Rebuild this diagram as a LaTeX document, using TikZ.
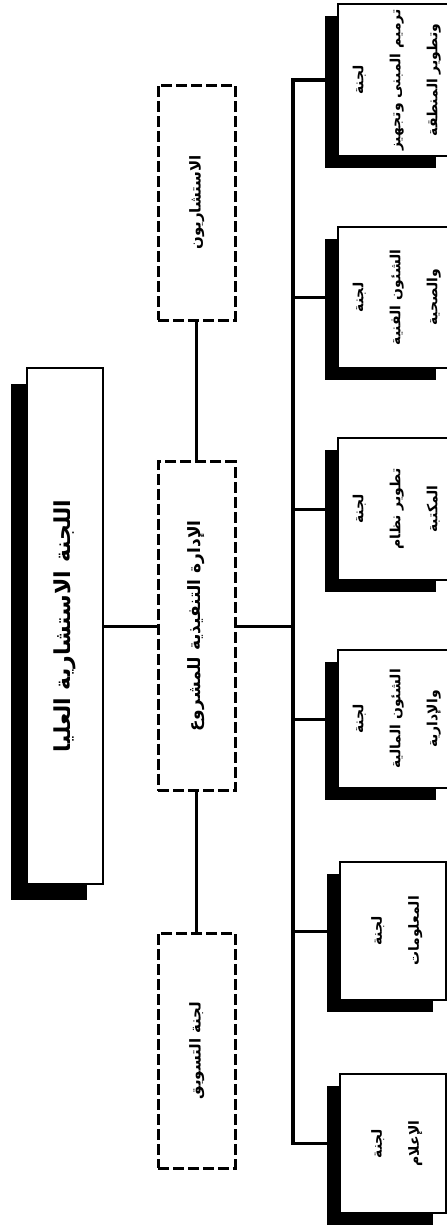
\documentclass[tikz,border=0pt]{standalone}
\usepackage{fontspec}
\usepackage{graphicx}
\usetikzlibrary{shadows}
\TeXXeTstate=1
\newfontfamily\arabicfont[Script=Arabic]{DejaVu Sans}
\newcommand{\artext}[1]{\beginR #1\endR}
\newcommand{\vlabel}[1]{\rotatebox{90}{\begin{tabular}{@{}c@{}}#1\end{tabular}}}

\begin{document}
\begin{tikzpicture}[x=1pt, y=1pt,
    mainbox/.style={draw, line width=2pt, fill=white, inner sep=0pt,
        drop shadow={shadow xshift=-16pt, shadow yshift=-16pt, fill=black, opacity=1},
        font=\arabicfont\bfseries\fontsize{22}{26}\selectfont},
    dashbox/.style={draw, line width=3pt, dash pattern=on 11pt off 4pt, fill=white,
        inner sep=0pt, minimum width=77pt,
        font=\arabicfont\bfseries\fontsize{15}{20}\selectfont},
    unitbox/.style={draw, line width=2pt, fill=white, inner sep=0pt, minimum width=106pt,
        drop shadow={shadow xshift=-13pt, shadow yshift=-12pt, fill=black, opacity=1},
        font=\arabicfont\bfseries\fontsize{14}{37}\selectfont},
    link/.style={line width=3pt}]
    \fill[white] (0,0) rectangle (447,-1229);
    \useasboundingbox (0,0) rectangle (447,-1229);
    % top of the chart
    \node[mainbox, minimum width=76pt, minimum height=516pt] (council) at (65,-626)
        {\vlabel{\artext{اللجنة الاستشارية العليا}}};
    % middle column
    \node[dashbox, minimum height=235pt] (advisors) at (196.5,-202.5)
        {\vlabel{\artext{الاستشاريون}}};
    \node[dashbox, minimum height=329pt, font=\arabicfont\bfseries\fontsize{17}{20}\selectfont]
        (execmgmt) at (196.5,-626) {\vlabel{\artext{الإدارة التنفيذية للمشروع}}};
    \node[dashbox, minimum height=235pt] (marketing) at (196.5,-1050.5)
        {\vlabel{\artext{لجنة التسويق}}};
    % committees
    \node[unitbox, minimum height=152pt] (u1) at (393,-80)
        {\vlabel{\artext{لجنة}\\ \artext{ترميم المبنى وتجهيز}\\ \artext{وتطوير المنطقة}}};
    \node[unitbox, minimum height=141pt] (u2) at (393,-297.5)
        {\vlabel{\artext{لجنة}\\ \artext{الشئون الفنية}\\ \artext{والصحية}}};
    \node[unitbox, minimum height=142pt] (u3) at (393,-509)
        {\vlabel{\artext{لجنة}\\ \artext{تطوير نظام}\\ \artext{المكتبة}}};
    \node[unitbox, minimum height=138pt] (u4) at (393,-719)
        {\vlabel{\artext{لجنة}\\ \artext{الشئون المالية}\\ \artext{والإدارية}}};
    \node[unitbox, minimum height=138pt] (u5) at (393,-931)
        {\vlabel{\artext{لجنة}\\ \artext{المعلومات}}};
    \node[unitbox, minimum height=139pt] (u6) at (393,-1143.5)
        {\vlabel{\artext{لجنة}\\ \artext{الإعلام}}};
    % connectors
    \coordinate (bus) at (293,0);
    \draw[link] (advisors) -- (execmgmt) -- (marketing);
    \draw[link] (council) -- (execmgmt);
    \draw[link] (execmgmt) -- (execmgmt -| bus);
    \draw[link, line width=3.5pt] (u1.west) -| (bus |- u6.west) -- (u6.west);
    \foreach \i in {2,...,5}
        \draw[link] (bus |- u\i.west) -- (u\i.west);
\end{tikzpicture}
\end{document}
